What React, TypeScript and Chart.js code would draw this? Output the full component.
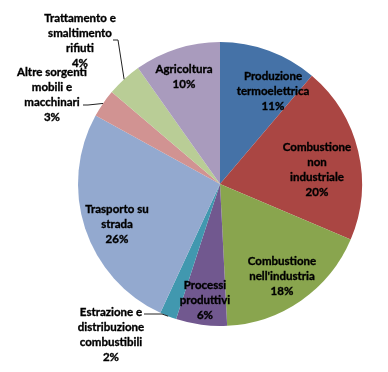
import React, { useEffect, useRef } from "react";
import { Chart, registerables } from "chart.js";

Chart.register(...registerables);

const categories: string[][] = [
  ["Produzione", "termoelettrica"],
  ["Combustione", "non", "industriale"],
  ["Combustione", "nell'industria"],
  ["Processi", "produttivi"],
  ["Estrazione e", "distribuzione", "combustibili"],
  ["Trasporto su", "strada"],
  ["Altre sorgenti", "mobili e", "macchinari"],
  ["Trattamento e", "smaltimento", "rifiuti"],
  ["Agricoltura"],
];
const values: number[] = [11.2, 20.2, 17.8, 5.8, 1.9, 26.1, 3.2, 4.0, 9.8];
const colors: string[] = [
  "#4572A7",
  "#AA4643",
  "#89A54E",
  "#71588F",
  "#4198AF",
  "#93A9CF",
  "#D19392",
  "#B9CD96",
  "#A99BBD",
];

// label block centres, offset in px from pie centre
const labelOffsets: [number, number][] = [
  [53, -93],
  [97, -14],
  [62, 92],
  [-15, 116],
  [-109, 151],
  [-103, 40],
  [-168, -89],
  [-140, -143],
  [-36, -107],
];
// leader lines (px offsets from pie centre), final point = slice edge
const leaders: ([number, number][] | null)[] = [
  null,
  null,
  null,
  null,
  [[-76, 130], [-58, 130]],
  null,
  [[-137, -79], [-132, -79]],
  [[-107, -144], [-102, -144]],
  null,
];

const FONT = "bold 11.5px Lato, 'Open Sans', sans-serif";
const LINE_H = 15;

const labelPlugin = {
  id: "pieLabels",
  afterDraw(chart: any) {
    const ctx = chart.ctx;
    const meta = chart.getDatasetMeta(0);
    ctx.save();
    ctx.font = FONT;
    ctx.fillStyle = "#000";
    ctx.strokeStyle = "#000";
    ctx.lineWidth = 0.35;
    ctx.textAlign = "center";
    ctx.textBaseline = "middle";
    meta.data.forEach((arc: any, i: number) => {
      const cx = arc.x;
      const cy = arc.y;
      const lines = [...categories[i], Math.round(values[i]) + "%"];
      const [ox, oy] = labelOffsets[i];
      const top = cy + oy - ((lines.length - 1) * LINE_H) / 2;
      lines.forEach((t, k) => {
        ctx.fillText(t, cx + ox, top + k * LINE_H);
        ctx.strokeText(t, cx + ox, top + k * LINE_H);
      });
      const ld = leaders[i];
      if (ld) {
        const mid = (arc.startAngle + arc.endAngle) / 2;
        const r = arc.outerRadius;
        ctx.beginPath();
        ctx.strokeStyle = "#222";
        ctx.lineWidth = 1;
        ctx.moveTo(cx + ld[0][0], cy + ld[0][1]);
        for (let k = 1; k < ld.length; k++) ctx.lineTo(cx + ld[k][0], cy + ld[k][1]);
        ctx.lineTo(cx + Math.cos(mid) * r, cy + Math.sin(mid) * r);
        ctx.stroke();
        ctx.strokeStyle = "#000";
        ctx.lineWidth = 0.35;
      }
    });
    ctx.restore();
  },
};

export default function App() {
  const ref = useRef<HTMLCanvasElement | null>(null);
  useEffect(() => {
    if (!ref.current) return;
    const chart = new Chart(ref.current, {
      type: "pie",
      data: {
        labels: categories.map((c) => c.join(" ")),
        datasets: [
          {
            data: values,
            backgroundColor: colors,
            borderWidth: 0,
          },
        ],
      },
      options: {
        animation: false,
        responsive: false,
        layout: { padding: { left: 78, right: 26, top: 42, bottom: 46 } },
        plugins: {
          legend: { display: false },
          tooltip: { enabled: false },
        },
      },
      plugins: [labelPlugin],
    });
    return () => chart.destroy();
  }, []);
  return (
    <div style={{ position: "fixed", left: 0, top: 0, width: 388, height: 372, background: "#fff" }}>
      <canvas ref={ref} width={388} height={372} style={{ width: 388, height: 372 }} />
    </div>
  );
}
